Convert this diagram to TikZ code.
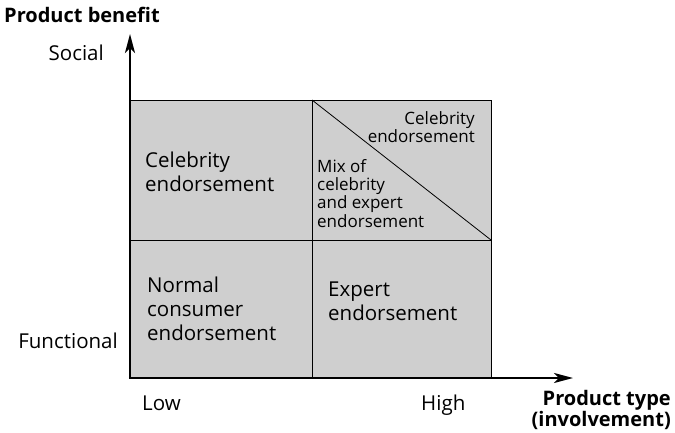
\documentclass[tikz,border=0pt]{standalone}
\usepackage{fontspec}
\setmainfont{Open Sans}
\usetikzlibrary{arrows.meta}
\definecolor{cellgray}{HTML}{CFCFCF}
\begin{document}
\begin{tikzpicture}[x=1pt,y=-1pt,
  txt/.style={inner sep=0pt,font=\fontsize{20.5}{24}\selectfont,align=left},
  small/.style={inner sep=0pt,font=\fontsize{17}{18.3}\selectfont},
  bold/.style={inner sep=0pt,font=\fontsize{20}{19}\selectfont\bfseries},
  axis/.style={line width=2.4pt,-{Stealth[length=19pt,width=10pt,inset=5pt]}},
  grid/.style={line width=0.8pt}]
\useasboundingbox (0,0) rectangle (675,433);
\coordinate (O) at (130,378);
\coordinate (ytip) at (130,34);
\coordinate (xtip) at (573,378);
\coordinate (TL) at (130,100);
\coordinate (TM) at (312,100);
\coordinate (TR) at (491,100);
\coordinate (ML) at (130,240);
\coordinate (MR) at (491,240);
\coordinate (BM) at (312,378);
\coordinate (BR) at (491,378);
\fill[cellgray] (TL) rectangle (BR);
\draw[grid] (TL) -- (TR) -- (BR);
\draw[grid] (ML) -- (MR);
\draw[grid] (TM) -- (BM);
\draw[grid] (TM) -- (MR);
\draw[axis] (O) -- (ytip);
\draw[axis] ([xshift=-1.2pt]O) -- (xtip);
\node[bold,anchor=base west] (pb) at (4,23) {Product benefit};
\node[txt,anchor=base east] (soc) at (104,61) {Social};
\node[txt,anchor=base east] (fun) at (118,348) {Functional};
\node[txt,anchor=base west] (low) at (142,410) {Low};
\node[txt,anchor=base west] (high) at (421,410) {High};
\node[bold,anchor=base east,align=right] (pt) at (671,426) {Product type\\(involvement)};
\node[txt,anchor=base west] (ce) at (145,191) {Celebrity\\endorsement};
\node[txt,anchor=base west] (nc) at (147,340) {Normal\\consumer\\endorsement};
\node[txt,anchor=base west] (ee) at (328,320) {Expert\\endorsement};
\node[small,anchor=base east,align=right] (ce2) at (475,143) {Celebrity\\endorsement};
\node[small,anchor=base west,align=left] (mix) at (317,227) {Mix of\\celebrity\\and expert\\endorsement};
\end{tikzpicture}
\end{document}
